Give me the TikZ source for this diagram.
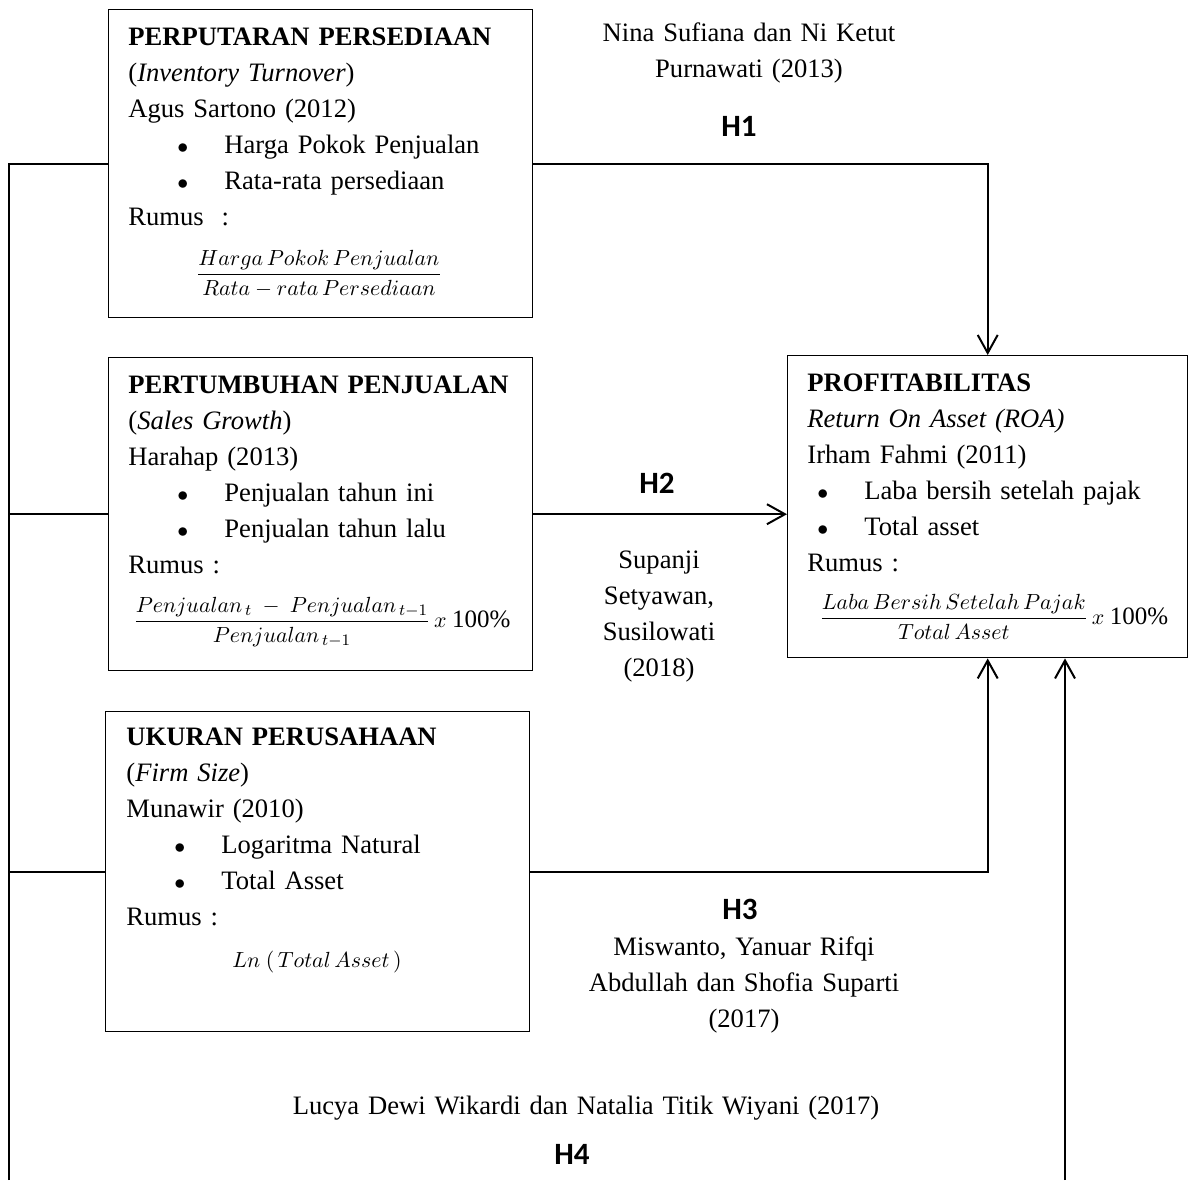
\documentclass[tikz,border=0pt]{standalone}
\usepackage{fontspec}
\setmainfont{Liberation Serif}
\newfontfamily\hypfont{Carlito}
\usetikzlibrary{arrows.meta}
\tikzset{>={Straight Barb[length=9pt,width=10pt]}}
\tikzset{
  varbox/.style={draw, line width=0.7pt, anchor=north west, inner sep=0pt},
  boxtext/.style={anchor=base west, align=left, inner sep=0pt, text width=205pt,
    font=\fontsize{13.3}{18}\selectfont},
  reftext/.style={anchor=base, align=center, inner sep=0pt,
    font=\fontsize{13.3}{18}\selectfont},
  hyp/.style={anchor=base, inner sep=0pt, font=\hypfont\bfseries\fontsize{15.5}{16}\selectfont},
  formula/.style={anchor=base, inner sep=0pt, font=\fontsize{10.8}{12}\selectfont},
  conn/.style={line width=1pt}
}
\newcommand{\bul}[1]{\hspace*{#1}\makebox[23.5pt][l]{\fontsize{11}{11}\selectfont$\bullet$}}

\begin{document}
\begin{tikzpicture}[x=0.5pt,y=-0.5pt]
\useasboundingbox (0,0) rectangle (1189,1180);

% boxes
\node[varbox, minimum width=212pt, minimum height=154pt] (inv) at (108,9) {};
\node[varbox, minimum width=212pt, minimum height=156.5pt] (sg) at (108,357) {};
\node[varbox, minimum width=212pt, minimum height=160pt] (fs) at (105,711) {};
\node[varbox, minimum width=200pt, minimum height=151pt] (roa) at (787,355) {};

% box texts
\node[boxtext] (invtxt) at (128,45) {\textbf{PERPUTARAN PERSEDIAAN}\\
(\textit{Inventory Turnover})\\
Agus Sartono (2012)\\
\bul{24.5pt}Harga Pokok Penjualan\\
\bul{24.5pt}Rata-rata persediaan\\
Rumus~~:};
\node[formula] (invf) at (319,280) {$\displaystyle\frac{Harga\,Pokok\,Penjualan}{Rata-rata\,Persediaan}$};

\node[boxtext] (sgtxt) at (128,393) {\textbf{PERTUMBUHAN PENJUALAN}\\
(\textit{Sales Growth})\\
Harahap (2013)\\
\bul{24.5pt}Penjualan tahun ini\\
\bul{24.5pt}Penjualan tahun lalu\\
Rumus :};
\node[formula, anchor=base west] (sgf) at (133,627) {$\displaystyle\frac{Penjualan_{\,t}\ -\ Penjualan_{\,t-1}}{Penjualan_{\,t-1}}\,x$ {\fontsize{12.5}{12}\selectfont 100\%}};

\node[boxtext] (fstxt) at (126,745) {\textbf{UKURAN PERUSAHAAN}\\
(\textit{Firm Size})\\
Munawir (2010)\\
\bul{24pt}Logaritma Natural\\
\bul{24pt}Total Asset\\
Rumus :};
\node[formula] (fsf) at (317,967) {$Ln\ (\,Total\,Asset\,)$};

\node[boxtext, text width=185pt] (roatxt) at (807,391) {\textbf{PROFITABILITAS}\\
\textit{Return On Asset (ROA)}\\
Irham Fahmi (2011)\\
\bul{5pt}Laba bersih setelah pajak\\
\bul{5pt}Total asset\\
Rumus :};
\node[formula, anchor=base west] (roaf) at (819,624) {$\displaystyle\frac{Laba\,Bersih\,Setelah\,Pajak}{Total\,Asset}\,x$ {\fontsize{12.5}{12}\selectfont 100\%}};

% references and hypotheses
\node[reftext, text width=180pt] (ref1) at (749,41) {Nina Sufiana dan Ni Ketut\\Purnawati (2013)};
\node[hyp] (h1) at (739,136) {H1};
\node[hyp] (h2) at (657,493) {H2};
\node[reftext, text width=80pt] (ref2) at (659,568) {Supanji\\Setyawan,\\Susilowati\\(2018)};
\node[hyp] (h3) at (740,919) {H3};
\node[reftext, text width=180pt] (ref3) at (744,955) {Miswanto, Yanuar Rifqi\\Abdullah dan Shofia Suparti\\(2017)};
\node[reftext, text width=300pt] (ref4) at (586,1114) {Lucya Dewi Wikardi dan Natalia Titik Wiyani (2017)};
\node[hyp] (h4) at (572,1164) {H4};

% connectors
\coordinate (lft) at (9,1180);
\coordinate (bot4) at (1065,1180);
\draw[conn] (lft) |- (inv.west);
\draw[conn] (sg.west) -- (sg.west -| lft);
\draw[conn] (fs.west) -- (fs.west -| lft);
\draw[conn,->] (inv.east) -| (roa.north);
\draw[conn,->] (sg.east) -- (sg.east -| roa.west);
\draw[conn,->] (fs.east) -| (roa.south);
\draw[conn,->] (bot4) -- (bot4 |- roa.south);
\end{tikzpicture}
\end{document}
